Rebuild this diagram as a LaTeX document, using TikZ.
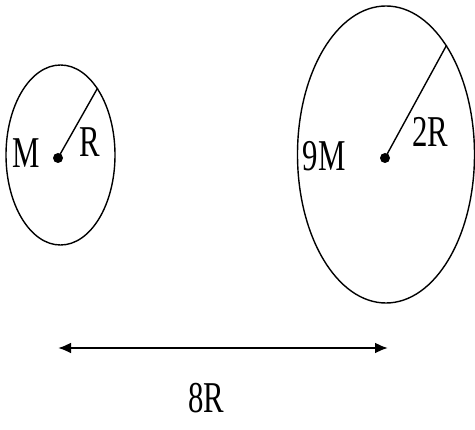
\documentclass[tikz,border=0pt]{standalone}
\usepackage{fontspec}
\setmainfont{Liberation Serif}
\newfontfamily\tms{Liberation Serif}
\usetikzlibrary{shapes.geometric,arrows.meta}
\tikzset{
  body/.style={draw, ellipse, inner sep=0pt, line width=1.4pt},
  centre/.style={circle, fill, inner sep=0pt, minimum size=10pt},
  lbl/.style={inner sep=0pt, font=\tms\fontsize{44}{44}\selectfont},
  rad/.style={line width=1.4pt},
  dist/.style={line width=2.2pt, {Latex[length=13pt,width=11pt]}-{Latex[length=13pt,width=11pt]}}
}
\newcommand{\sq}[1]{\scalebox{0.7}[1]{#1}}
\begin{document}
\begin{tikzpicture}[x=1pt,y=-1pt]
\useasboundingbox (0,0) rectangle (475,430);
% small body
\node[body, minimum width=109pt, minimum height=180pt] (s) at (60.5,155) {};
\node[centre] (sd) at (58,158) {};
\draw[rad] (sd.center) -- (s.61);
\node[lbl] (sm) at (26,153) {\sq{M}};
\node[lbl] (sr) at (90,142) {\sq{R}};
% large body
\node[body, minimum width=177pt, minimum height=297pt] (b) at (386,154.5) {};
\node[centre] (bd) at (385,158) {};
\draw[rad] (bd.center) -- (b.61.6);
\node[lbl] (bm) at (324,156) {\sq{9M}};
\node[lbl] (br) at (430,132) {\sq{2R}};
% distance
\coordinate (a1) at (58,348);
\coordinate (a2) at (388,348);
\draw[dist] (a1) -- (a2);
\node[lbl] (d) at (206,398) {\sq{8R}};
\end{tikzpicture}
\end{document}
